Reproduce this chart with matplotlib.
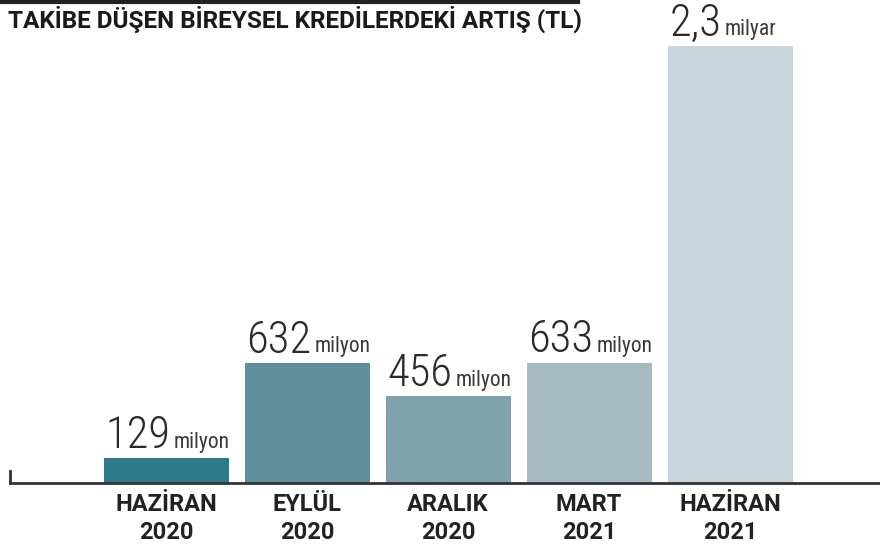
import matplotlib
matplotlib.use("Agg")
import matplotlib.pyplot as plt

categories = ["HAZİRAN\n2020", "EYLÜL\n2020", "ARALIK\n2020", "MART\n2021", "HAZİRAN\n2021"]
values_mn = [129, 632, 456, 633, 2300]
value_labels = ["129", "632", "456", "633", "2,3"]
unit_labels = ["milyon", "milyon", "milyon", "milyon", "milyar"]
colors = ["#2b7b8b", "#5f8e9c", "#7fa2ab", "#a6bac3", "#c9d6dd"]
title = "TAKİBE DÜŞEN BİREYSEL KREDİLERDEKİ ARTIŞ (TL)"

W, H = 880, 552
fig = plt.figure(figsize=(W / 100, H / 100), dpi=100)
fig.patch.set_facecolor("white")

base_px = 483  # baseline pixel from top
ax = fig.add_axes([0, (H - base_px) / H, 1, base_px / H])
ax.set_facecolor("none")

spacing = 141.0
c0 = 166.0
ax.set_xlim(-c0 / spacing, (W - c0) / spacing)
scale = 2300 / 437.0
ax.set_ylim(0, base_px * scale)

xs = list(range(len(categories)))
bars = ax.bar(xs, values_mn, width=125 / spacing, color=colors, zorder=2)

for s in ax.spines.values():
    s.set_visible(False)
ax.set_xticks([])
ax.set_yticks([])

num_font = dict(family=["Roboto Condensed", "Roboto", "DejaVu Sans"], weight="light",
                size=32, color="#2a2a2a")
unit_font = dict(family=["Roboto Condensed", "Roboto", "DejaVu Sans"], weight="normal",
                 size=15.5, color="#3a3a3a")

for b, vl, ul in zip(bars, value_labels, unit_labels):
    t = ax.annotate(vl, xy=(b.get_x(), b.get_height()), xytext=(1.5, 1),
                    textcoords="offset points", ha="left", va="bottom", **num_font)
    ax.annotate(ul, xy=(1, 0.1), xycoords=t, xytext=(2, 0),
                textcoords="offset points", ha="left", va="bottom", **unit_font)

# category labels
for x, c in zip(xs, categories):
    ax.annotate(c, xy=(x, 0), xytext=(0, -7), textcoords="offset points",
                ha="center", va="top", fontsize=17, fontweight="bold",
                family=["Roboto", "DejaVu Sans"],
                color="#222222", linespacing=1.3)

# baseline with left tick
line_col = "#333333"
fig.add_artist(plt.Line2D([10 / W, 1], [(H - base_px) / H] * 2, color=line_col, lw=2))
fig.add_artist(plt.Line2D([10 / W, 10 / W], [(H - base_px) / H, (H - 471) / H], color=line_col, lw=2))

# top rule
fig.add_artist(plt.Line2D([0, 578 / W], [(H - 1.5) / H] * 2, color="#222222", lw=3))

fig.text(8 / W, (H - 19) / H, title, ha="left", va="center", fontsize=17.5,
         fontweight="bold", family=["Roboto", "DejaVu Sans"],
         color="#1a1a1a")

fig.savefig("out.png", dpi=100, facecolor="white")
